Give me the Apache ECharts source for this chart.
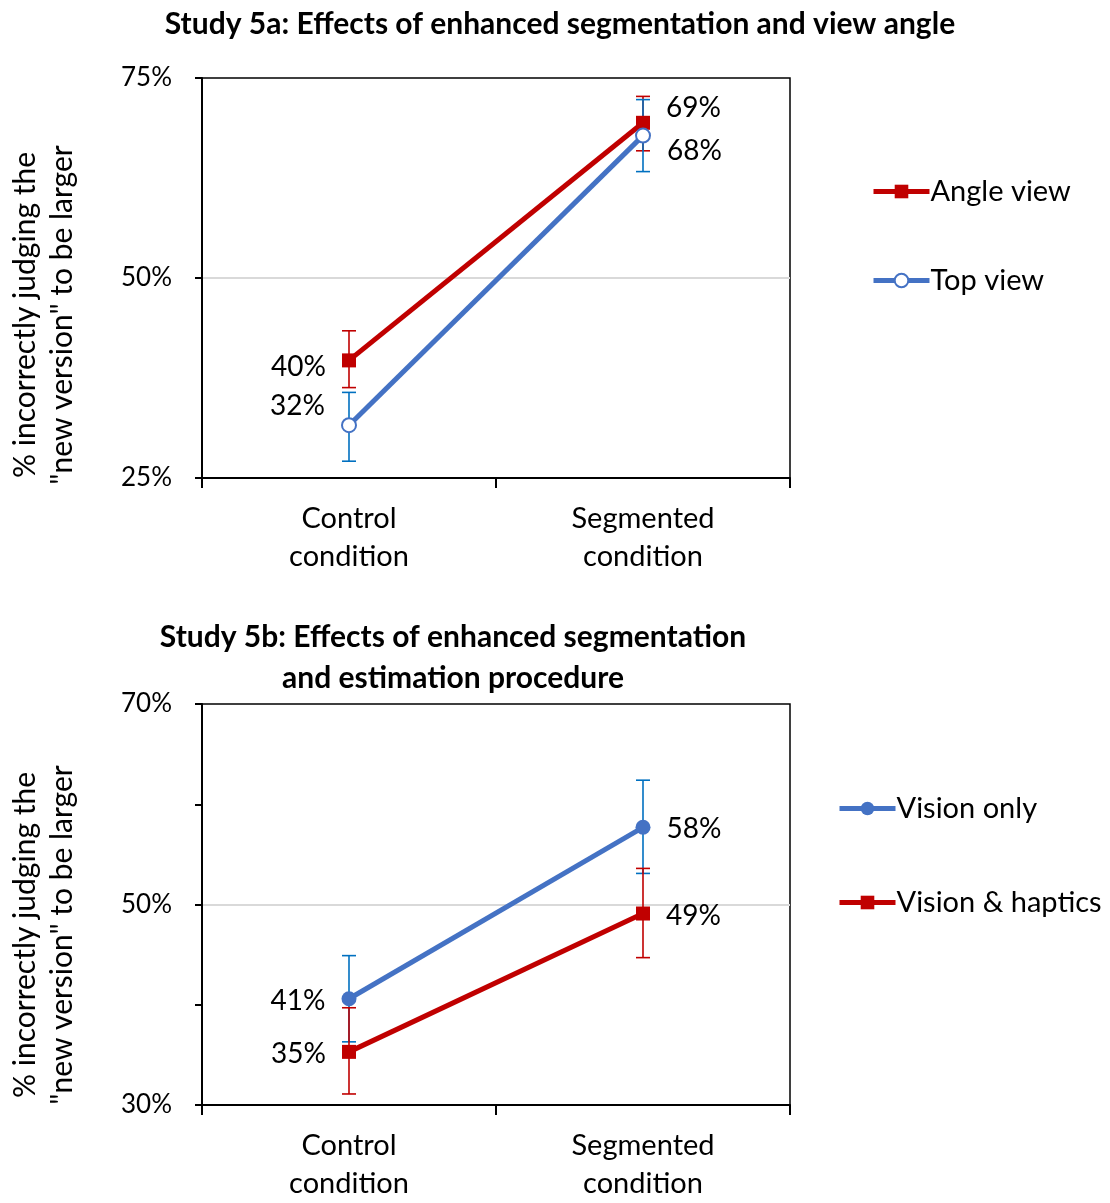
<!DOCTYPE html>
<html>
<head>
<meta charset="utf-8">
<script src="https://cdn.jsdelivr.net/npm/echarts@6/dist/echarts.min.js"></script>
<style>
  html, body { margin: 0; padding: 0; background: #fff; }
  #chart { width: 1110px; height: 1203px; }
</style>
</head>
<body>
<div id="chart"></div>
<script>
// Categories shared by both panels
const categories = ['Control\ncondition', 'Segmented\ncondition'];

// Study 5a: mean % judging the new version larger, with error bar ends
const angleView = [39.7, 69.4];
const angleViewLow = [36.3, 65.9];
const angleViewHigh = [43.4, 72.7];
const topView = [31.6, 67.8];
const topViewLow = [27.1, 63.3];
const topViewHigh = [35.7, 72.3];

// Study 5b
const visionOnly = [40.6, 57.7];
const visionOnlyLow = [36.3, 53.1];
const visionOnlyHigh = [44.9, 62.4];
const visionHaptics = [35.3, 49.1];
const visionHapticsLow = [31.1, 44.7];
const visionHapticsHigh = [39.7, 53.6];

// Axis ranges
const axisA = { min: 25, max: 75, interval: 25 };
const axisB = { min: 30, max: 70, interval: 10 };

const RED = '#c00000';
const BLUE = '#4472c4';
const BAR_BLUE = '#0070c0';
const FONT = 'Lato';

const pct = v => Math.round(v) + '%';

function errorSeries(name, low, high, color, gi) {
  return {
    type: 'custom',
    name: name,
    xAxisIndex: gi, yAxisIndex: gi,
    z: 1,
    silent: true,
    data: low.map((l, i) => [i, l, high[i]]),
    renderItem: function (params, api) {
      const top = api.coord([api.value(0), api.value(2)]);
      const bot = api.coord([api.value(0), api.value(1)]);
      const w = 7;
      const st = { stroke: color, lineWidth: 1.6 };
      return {
        type: 'group',
        children: [
          { type: 'line', shape: { x1: top[0], y1: top[1], x2: bot[0], y2: bot[1] }, style: st },
          { type: 'line', shape: { x1: top[0] - w, y1: top[1], x2: top[0] + w, y2: top[1] }, style: st },
          { type: 'line', shape: { x1: bot[0] - w, y1: bot[1], x2: bot[0] + w, y2: bot[1] }, style: st }
        ]
      };
    }
  };
}

const labelStyle = { fontFamily: FONT, fontSize: 28, color: '#000' };

function lineSeries(name, values, color, gi, symbol, symbolSize, fill, labels) {
  return {
    type: 'line',
    name: name,
    color: color,
    xAxisIndex: gi, yAxisIndex: gi,
    z: 3,
    symbol: symbol,
    symbolSize: symbolSize,
    showAllSymbol: true,
    lineStyle: { color: color, width: 5 },
    itemStyle: { color: fill, borderColor: color, borderWidth: fill === '#fff' ? 2 : 0 },
    data: values.map((v, i) => ({
      value: v,
      label: Object.assign({ show: true, formatter: p => pct(p.value) }, labelStyle, labels[i])
    })),
    emphasis: { disabled: true }
  };
}

function xAxisCfg(gi) {
  return {
    type: 'category', gridIndex: gi, data: categories,
    boundaryGap: true,
    axisLine: { lineStyle: { color: '#000', width: 2 } },
    axisTick: { show: true, length: 10, lineStyle: { color: '#000', width: 2 } },
    axisLabel: { fontFamily: FONT, fontSize: 29, color: '#000', lineHeight: 38, margin: 22 },
    splitLine: { show: false }
  };
}

function yAxisCfg(gi, ax, labelShown, gridColors) {
  return {
    type: 'value', gridIndex: gi,
    min: ax.min, max: ax.max, interval: ax.interval,
    axisLine: { show: true, lineStyle: { color: '#000', width: 2 } },
    axisTick: { show: true, length: 7, lineStyle: { color: '#000', width: 2 } },
    axisLabel: {
      fontFamily: FONT, fontSize: 26, color: '#000', margin: 30,
      formatter: v => labelShown(v) ? v + '%' : ''
    },
    splitLine: { show: true, lineStyle: { color: gridColors, width: 2 } }
  };
}

function legendCfg(names, left, top, gap) {
  return {
    data: names,
    orient: 'vertical', left: left, top: top, itemGap: gap,
    itemWidth: 56, itemHeight: 17,
    lineStyle: { width: 5 },
    textStyle: { fontFamily: FONT, fontSize: 29, color: '#000', padding: [0, 0, 0, -4] },
    selectedMode: false
  };
}

const chart = echarts.init(document.getElementById('chart'), null, { renderer: 'canvas' });

chart.setOption({
  animation: false,
  backgroundColor: '#fff',
  textStyle: { fontFamily: FONT },
  grid: [
    { left: 202, top: 78, width: 588, height: 400, show: true, borderColor: '#000', borderWidth: 1.5, backgroundColor: 'transparent' },
    { left: 202, top: 704, width: 588, height: 404, show: true, borderColor: '#000', borderWidth: 1.5, backgroundColor: 'transparent' }
  ],
  xAxis: [xAxisCfg(0), xAxisCfg(1)],
  yAxis: [
    yAxisCfg(0, axisA, () => true, ['transparent', '#d9d9d9', 'transparent']),
    yAxisCfg(1, axisB, v => v % 20 === 10, ['transparent', 'transparent', '#d9d9d9', 'transparent', 'transparent'])
  ],
  legend: [
    legendCfg(['Angle view', 'Top view'], 866, 172, 60),
    legendCfg(['Vision only', 'Vision & haptics'], 832, 789, 65)
  ],
  graphic: [
    { type: 'text', x: 560, y: 24,
      style: { text: 'Study 5a: Effects of enhanced segmentation and view angle', font: 'bold 30px ' + FONT, fill: '#000', textAlign: 'center', textVerticalAlign: 'middle' } },
    { type: 'text', x: 453, y: 658,
      style: { text: 'Study 5b: Effects of enhanced segmentation\nand estimation procedure', font: 'bold 30px ' + FONT, fill: '#000', textAlign: 'center', textVerticalAlign: 'middle', lineHeight: 41 } },
    { type: 'text', x: 44, y: 315, rotation: Math.PI / 2,
      style: { text: '% incorrectly judging the\n"new version" to be larger', font: '30px ' + FONT, fill: '#000', textAlign: 'center', textVerticalAlign: 'middle', lineHeight: 37 } },
    { type: 'text', x: 44, y: 935, rotation: Math.PI / 2,
      style: { text: '% incorrectly judging the\n"new version" to be larger', font: '30px ' + FONT, fill: '#000', textAlign: 'center', textVerticalAlign: 'middle', lineHeight: 37 } }
  ],
  series: [
    errorSeries('angleErr', angleViewLow, angleViewHigh, RED, 0),
    errorSeries('topErr', topViewLow, topViewHigh, BAR_BLUE, 0),
    lineSeries('Angle view', angleView, RED, 0, 'rect', 14, RED, [
      { position: 'left', distance: 16, offset: [0, 7] },
      { position: 'right', distance: 16, offset: [0, -15] }
    ]),
    lineSeries('Top view', topView, BLUE, 0, 'circle', 14, '#fff', [
      { position: 'left', distance: 16, offset: [0, -19] },
      { position: 'right', distance: 16, offset: [0, 15] }
    ]),
    errorSeries('visionErr', visionOnlyLow, visionOnlyHigh, BAR_BLUE, 1),
    errorSeries('hapticsErr', visionHapticsLow, visionHapticsHigh, RED, 1),
    lineSeries('Vision only', visionOnly, BLUE, 1, 'circle', 15, BLUE, [
      { position: 'left', distance: 16, offset: [0, 2] },
      { position: 'right', distance: 16, offset: [0, 2] }
    ]),
    lineSeries('Vision & haptics', visionHaptics, RED, 1, 'rect', 14, RED, [
      { position: 'left', distance: 16, offset: [0, 2] },
      { position: 'right', distance: 16, offset: [0, 2] }
    ])
  ]
});
</script>
</body>
</html>
